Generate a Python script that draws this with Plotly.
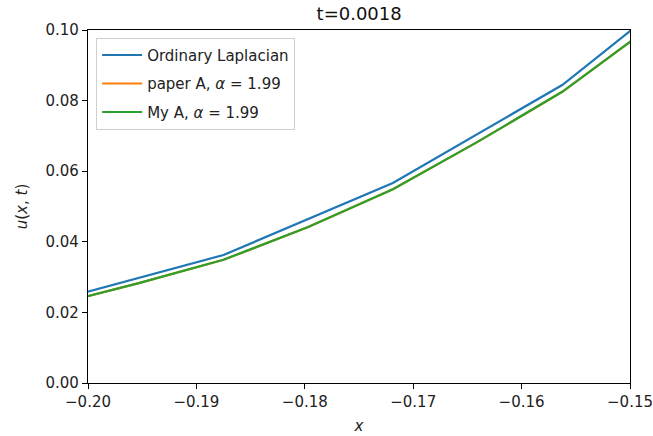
import plotly.graph_objects as go

# Coarse grid (h = 1/64) for the ordinary Laplacian solution
x_coarse = [-0.203125, -0.1875, -0.171875, -0.15625, -0.140625]
u_ordinary = [0.0233, 0.03626, 0.05666, 0.08442, 0.1226]

# Fine grid (h = 1/128) for the fractional solutions
x_fine = [-0.203125, -0.1953125, -0.1875, -0.1796875, -0.171875,
          -0.1640625, -0.15625, -0.1484375]
u_paper = [0.0221, 0.0283, 0.0349, 0.0442, 0.0549, 0.0683, 0.0825, 0.1002]
u_mine = [0.0221, 0.0283, 0.0349, 0.0442, 0.0549, 0.0683, 0.0825, 0.1002]

x_ticks = [-0.20, -0.19, -0.18, -0.17, -0.16, -0.15]
y_ticks = [0.00, 0.02, 0.04, 0.06, 0.08, 0.10]

FONT = "DejaVu Sans"

fig = go.Figure()
fig.add_trace(go.Scatter(x=x_coarse, y=u_ordinary, mode="lines",
                         name="Ordinary Laplacian", legendgroup="a",
                         line=dict(color="#1f77b4", width=2.2)))
fig.add_trace(go.Scatter(x=x_fine, y=u_paper, mode="lines",
                         name="paper A, <i>α</i> = 1.99", legendgroup="b",
                         line=dict(color="#ff7f0e", width=2.2)))
fig.add_trace(go.Scatter(x=x_fine, y=u_mine, mode="lines",
                         name="My A, <i>α</i> = 1.99", legendgroup="c",
                         line=dict(color="#2ca02c", width=2.2)))

axis_common = dict(
    showline=True, linecolor="black", linewidth=1.2, mirror=True,
    ticks="outside", ticklen=5, tickwidth=1.2, tickcolor="black",
    showgrid=False, zeroline=False, automargin=False,
    tickfont=dict(family=FONT, size=15, color="#222222"),
)

fig.update_xaxes(range=[-0.20, -0.15], tickvals=x_ticks,
                 ticktext=["\u2212" + f"{abs(v):.2f}" for v in x_ticks],
                 title=dict(text="<i>x</i>", font=dict(family=FONT, size=15, color="#222222"),
                            standoff=10),
                 **axis_common)
fig.update_yaxes(range=[0, 0.10], tickvals=y_ticks,
                 ticktext=[f"{v:.2f}" for v in y_ticks],
                 title=dict(text="<i>u</i>(<i>x</i>, <i>t</i>)",
                            font=dict(family=FONT, size=15, color="#222222"),
                            standoff=14),
                 **axis_common)

fig.update_layout(
    width=653, height=436,
    margin=dict(l=88, r=23, t=30, b=53),
    plot_bgcolor="white", paper_bgcolor="white",
    title=dict(text="t=0.0018", x=0.55, xanchor="center", y=0.968, yanchor="middle",
               font=dict(family=FONT, size=18, color="#111111")),
    legend=dict(x=0.015, y=0.978, xanchor="left", yanchor="top",
                bgcolor="white", bordercolor="#d0d0d0", borderwidth=1,
                font=dict(family=FONT, size=15, color="#222222"),
                itemwidth=40, tracegroupgap=6),
    showlegend=True,
)

fig.write_html("out.html")
